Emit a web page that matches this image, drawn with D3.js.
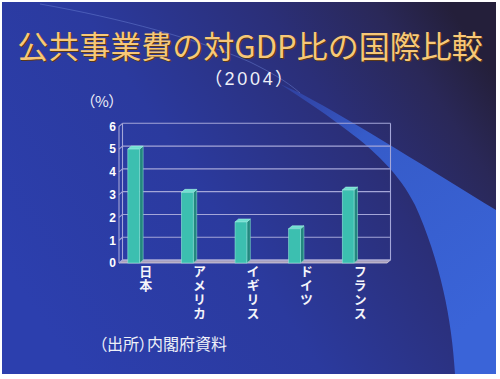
<!DOCTYPE html>
<html>
<head>
<meta charset="utf-8">
<script src="https://cdn.jsdelivr.net/npm/d3@7"></script>
<style>
  body { margin: 0; background: #fff; }
  svg { display: block; }
  .jp { font-family: "Noto Sans CJK JP", "Noto Sans", sans-serif; }
  .palt { font-feature-settings: "palt"; }
  .y.axis text { font-family: "Liberation Sans", Arial, sans-serif; font-weight: bold; font-size: 12px; fill: #fff; }
</style>
</head>
<body>
<div id="bar-chart"></div>
<script>
// Chart data
var categories = ["日本", "アメリカ", "イギリス", "ドイツ", "フランス"];
var values = [5.0, 3.1, 1.8, 1.5, 3.2];
var yTicks = [0, 1, 2, 3, 4, 5, 6];

var titleText = "公共事業費の対GDP比の国際比較";
var subtitleText = "（2004）";
var unitText = "（%）";
var sourceText = "（出所）内閣府資料";

var render = function() {
  var width = 500;
  var height = 379;

  // 3D offset of the back wall
  var dx = 3.5;
  var dy = 3;

  var containerElement = d3.select("#bar-chart");
  containerElement.html("");

  var svg = containerElement
    .append("svg")
    .attr("width", width)
    .attr("height", height);

  var defs = svg.append("defs");

  var bg = defs.append("linearGradient")
    .attr("id", "bg")
    .attr("x1", 0).attr("y1", 0.7)
    .attr("x2", 1).attr("y2", 0.2);
  [[0, "#2c3fae"], [0.4, "#2b3a9e"], [0.7, "#2b2f78"], [0.88, "#2a2858"], [1, "#241f3a"]]
    .forEach(s => bg.append("stop").attr("offset", s[0]).attr("stop-color", s[1]));

  var sw = defs.append("linearGradient")
    .attr("id", "swoosh")
    .attr("x1", 0).attr("y1", 0)
    .attr("x2", 0.6).attr("y2", 1);
  [[0, "#3550c0", 0.5], [0.3, "#3760d2", 0.9], [1, "#3a64d8", 1]]
    .forEach(s => sw.append("stop").attr("offset", s[0]).attr("stop-color", s[1]).attr("stop-opacity", s[2]));

  // Slide background
  svg.append("rect")
    .attr("x", 2).attr("y", 2)
    .attr("width", 494).attr("height", 372)
    .attr("fill", "url(#bg)");

  // Light swoosh band
  svg.append("path")
    .attr("d", "M300,93 C360,125 430,170 496,210 L496,374 L455,374 C452,320 440,260 415,205 C400,175 375,150 340,125 C320,110 300,97 280,84 Z")
    .attr("fill", "url(#swoosh)");

  svg.append("path")
    .attr("d", "M40,4 C120,18 200,40 250,62 C270,72 285,80 300,93")
    .attr("fill", "none")
    .attr("stroke", "#6e86d8")
    .attr("stroke-opacity", 0.45)
    .attr("stroke-width", 1);

  // Titles
  svg.append("text")
    .attr("class", "jp")
    .attr("x", 250).attr("y", 58)
    .attr("text-anchor", "middle")
    .attr("font-size", 31)
    .attr("fill", "#5a3818")
    .attr("transform", "translate(1.2,1.2)")
    .text(titleText);

  svg.append("text")
    .attr("class", "jp")
    .attr("x", 250).attr("y", 58)
    .attr("text-anchor", "middle")
    .attr("font-size", 31)
    .attr("fill", "#f7c878")
    .text(titleText);

  svg.append("text")
    .attr("class", "palt")
    .attr("font-family", "'Liberation Sans', 'Noto Sans CJK JP', sans-serif")
    .attr("x", 250).attr("y", 85)
    .attr("text-anchor", "middle")
    .attr("font-size", 18)
    .style("letter-spacing", "2.8px")
    .attr("fill", "#eef0f8")
    .text(subtitleText);

  svg.append("text")
    .attr("class", "jp palt")
    .attr("x", 102).attr("y", 107)
    .attr("text-anchor", "middle")
    .attr("font-size", 15)
    .attr("fill", "#eef0f8")
    .text(unitText);

  svg.append("text")
    .attr("class", "jp palt")
    .attr("x", 99).attr("y", 350)
    .attr("font-size", 16)
    .attr("fill", "#eef0f8")
    .text(sourceText);

  // Scales
  var xScale = d3.scaleBand()
    .domain(categories)
    .range([119, 387]);

  var yScale = d3.scaleLinear()
    .domain([0, 6])
    .range([260, 123.3]);

  var yFront = yScale.copy().range([260 + dy, 123.3 + dy]);

  var x0 = xScale.range()[0];
  var x1 = xScale.range()[1];
  var chart = svg.append("g").attr("class", "chart");

  // Floor
  chart.append("polygon")
    .attr("points", [[x0, yFront(0)], [x1, yFront(0)], [x1 + dx, yScale(0)], [x0 + dx, yScale(0)]].join(" "))
    .attr("fill", "#a8a0bc")
    .attr("stroke", "#d8d0e0")
    .attr("stroke-width", 0.8);

  // Back wall grid
  chart.append("g")
    .attr("class", "y grid")
    .selectAll("line")
    .data(yTicks)
    .enter()
    .append("line")
    .attr("x1", x0 + dx)
    .attr("x2", x1 + dx)
    .attr("y1", d => yScale(d))
    .attr("y2", d => yScale(d))
    .attr("stroke", "#a4a6d8")
    .attr("stroke-width", 1.1);

  chart.append("line")
    .attr("x1", x1 + dx).attr("x2", x1 + dx)
    .attr("y1", yScale(6)).attr("y2", yScale(0))
    .attr("stroke", "#a4a6d8")
    .attr("stroke-width", 1.1);

  chart.append("line")
    .attr("x1", x0 + dx).attr("x2", x0 + dx)
    .attr("y1", yScale(6)).attr("y2", yScale(0))
    .attr("stroke", "#a4a6d8")
    .attr("stroke-width", 1.1);

  // Left wall
  chart.append("g")
    .selectAll("line")
    .data(yTicks)
    .enter()
    .append("line")
    .attr("x1", x0)
    .attr("x2", x0 + dx)
    .attr("y1", d => yFront(d))
    .attr("y2", d => yScale(d))
    .attr("stroke", "#a4a6d8")
    .attr("stroke-width", 1.1);

  chart.append("line")
    .attr("x1", x0).attr("x2", x0)
    .attr("y1", yFront(6)).attr("y2", yFront(0))
    .attr("stroke", "#a4a6d8")
    .attr("stroke-width", 1.1);

  // Y axis labels
  chart.append("g")
    .attr("class", "y axis")
    .attr("transform", `translate(${x0},0)`)
    .call(d3.axisLeft(yFront).tickValues(yTicks).tickSize(0).tickPadding(3).tickFormat(d3.format("d")))
    .call(g => g.select(".domain").remove());

  // Bars
  var bw = xScale.bandwidth();
  var bars = chart.append("g")
    .attr("class", "bars")
    .selectAll("g")
    .data(categories.map((c, i) => ({ name: c, value: values[i] })))
    .enter()
    .append("g");

  var barLeft = d => xScale(d.name) + bw * 0.165;
  var barRight = d => xScale(d.name) + bw * 0.385;

  bars.append("polygon")
    .attr("points", d => [
      [barRight(d), yFront(d.value)],
      [barRight(d) + dx, yScale(d.value)],
      [barRight(d) + dx, yScale(0)],
      [barRight(d), yFront(0)]
    ].join(" "))
    .attr("fill", "#23877f")
    .attr("stroke", "#7fd8cc")
    .attr("stroke-width", 0.6);

  bars.append("polygon")
    .attr("points", d => [
      [barLeft(d), yFront(d.value)],
      [barRight(d), yFront(d.value)],
      [barRight(d) + dx, yScale(d.value)],
      [barLeft(d) + dx, yScale(d.value)]
    ].join(" "))
    .attr("fill", "#6fe0d0")
    .attr("stroke", "#a8f0e4")
    .attr("stroke-width", 0.6);

  bars.append("rect")
    .attr("x", barLeft)
    .attr("y", d => yFront(d.value))
    .attr("width", d => barRight(d) - barLeft(d))
    .attr("height", d => yFront(0) - yFront(d.value))
    .attr("fill", "#3cbfb0")
    .attr("stroke", "#8ee4d8")
    .attr("stroke-width", 0.6);

  // Vertical category labels (one text each, set top to bottom)
  chart.append("g")
    .attr("class", "x labels")
    .selectAll("text")
    .data(categories)
    .enter()
    .append("text")
    .attr("class", "jp")
    .attr("x", d => xScale(d) + bw / 2)
    .attr("y", 265)
    .style("writing-mode", "vertical-rl")
    .style("text-orientation", "upright")
    .style("letter-spacing", "0.8px")
    .attr("font-size", 13)
    .attr("font-weight", "bold")
    .attr("fill", "#f4f4fa")
    .text(d => d);
};

window.onload = render;
</script>
</body>
</html>
